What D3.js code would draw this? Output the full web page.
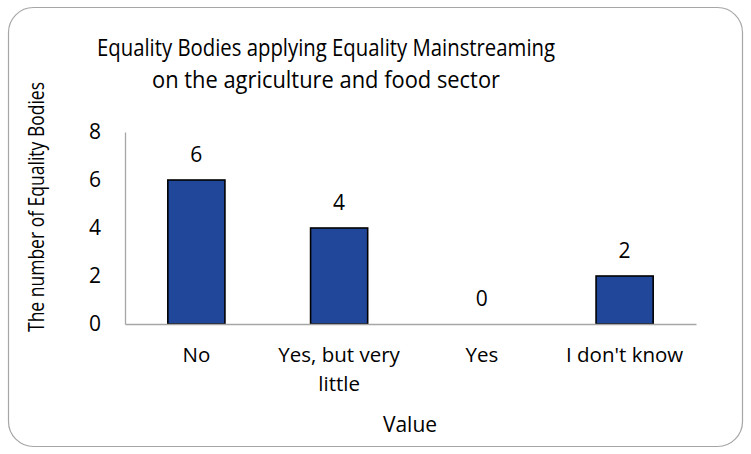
<!DOCTYPE html>
<html><head><meta charset="utf-8">
<script src="https://cdn.jsdelivr.net/npm/d3@7"></script>
<style>body{margin:0;background:#fff}text{font-family:"Open Sans",sans-serif;fill:#000}</style>
</head><body>
<svg id="c" width="751" height="454"></svg>
<script>
const categories = ["No", "Yes, but very little", "Yes", "I don't know"];
const categoryLines = [["No"], ["Yes, but very", "little"], ["Yes"], ["I don't know"]];
const values = [6, 4, 0, 2];
const yTicks = [0, 2, 4, 6, 8];
const titleLines = ["Equality Bodies applying Equality Mainstreaming", "on the agriculture and food sector"];
const yTitle = "The number of Equality Bodies";
const xTitle = "Value";

(function () {
const svg = d3.select("#c");
svg.append("rect").attr("x", 8.5).attr("y", 7.5).attr("width", 734).attr("height", 439)
  .attr("rx", 25).attr("ry", 25).attr("fill", "#fff").attr("stroke", "#a6a6a6").attr("stroke-width", 1.2);

const pLeft = 125, pRight = 696, pTop = 132, pBottom = 324;
const x = d3.scaleBand().domain(categories).range([pLeft, pRight]).paddingInner(0.6).paddingOuter(0.3);
const y = d3.scaleLinear().domain([0, 8]).range([pBottom, pTop]);

// title
const titleWidths = [458, 348];
svg.append("g").selectAll("text").data(titleLines).join("text")
  .attr("x", 326).attr("y", (d, i) => 56 + i * 32)
  .attr("text-anchor", "middle").attr("font-size", 23)
  .attr("textLength", (d, i) => titleWidths[i]).attr("lengthAdjust", "spacingAndGlyphs")
  .text(d => d);

// y axis
const yAxis = svg.append("g").attr("transform", `translate(${pLeft},0)`)
  .call(d3.axisLeft(y).tickValues(yTicks).tickSize(0).tickPadding(24));
yAxis.select(".domain").attr("stroke", "#a6a6a6").attr("stroke-width", 1.3);
yAxis.selectAll("text").attr("font-size", 21).attr("font-family", "Open Sans").attr("fill", "#000");

// bars
svg.append("g").selectAll("rect").data(values).join("rect")
  .attr("x", (d, i) => x(categories[i])).attr("width", x.bandwidth())
  .attr("y", d => y(d)).attr("height", d => y(0) - y(d))
  .attr("fill", "#21479b").attr("stroke", "#000").attr("stroke-width", 1.6)
  .style("display", d => d === 0 ? "none" : null);

// x axis
const xAxis = svg.append("g").attr("transform", `translate(0,${pBottom})`)
  .call(d3.axisBottom(x).tickSize(0).tickFormat(""));
xAxis.select(".domain").attr("stroke", "#a6a6a6").attr("stroke-width", 1.3);

// category labels
const cl = svg.append("g");
categories.forEach((c, i) => {
  const t = cl.append("text").attr("text-anchor", "middle").attr("font-size", 20.5);
  categoryLines[i].forEach((ln, j) => {
    t.append("tspan").attr("x", x(c) + x.bandwidth() / 2).attr("y", 362 + j * 29).text(ln);
  });
});

// data labels
svg.append("g").selectAll("text").data(values).join("text")
  .attr("x", (d, i) => x(categories[i]) + x.bandwidth() / 2)
  .attr("y", d => y(d) - 18).attr("text-anchor", "middle").attr("font-size", 21).text(d => d);

// axis titles
svg.append("text").attr("x", 410).attr("y", 432).attr("text-anchor", "middle").attr("font-size", 21).text(xTitle);
svg.append("text").attr("transform", "translate(44,207) rotate(-90)").attr("text-anchor", "middle")
  .attr("font-size", 21).attr("textLength", 250).attr("lengthAdjust", "spacingAndGlyphs").text(yTitle);
})();
</script>
</body></html>
